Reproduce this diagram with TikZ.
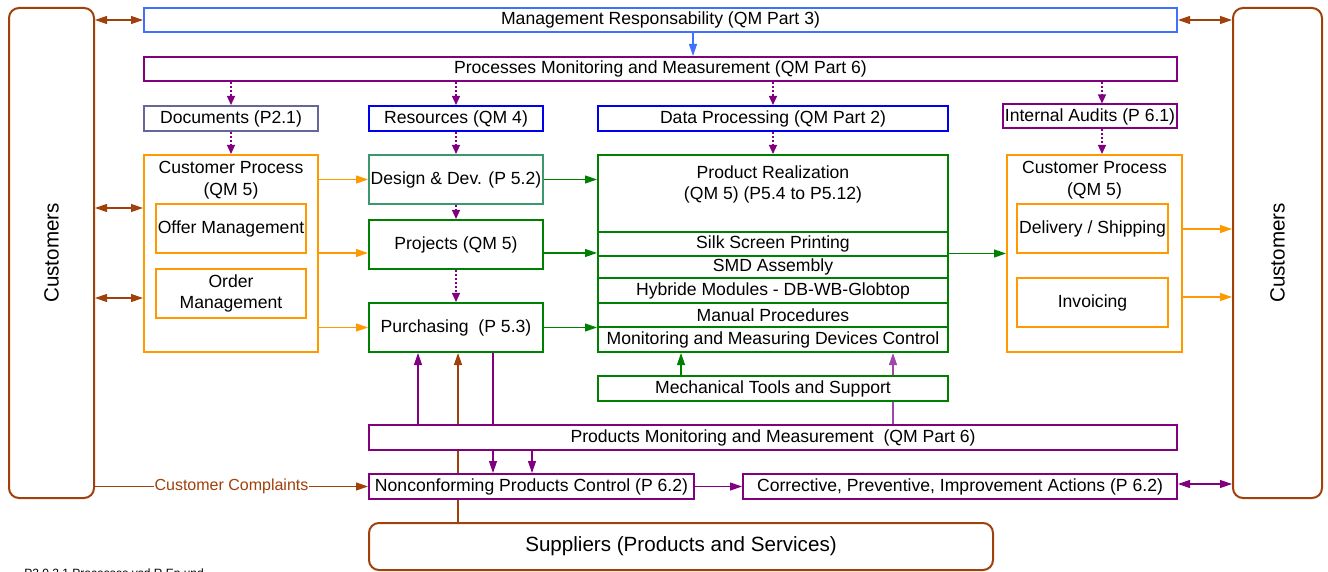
\documentclass[tikz,border=0pt]{standalone}
\usepackage{fontspec}
\setmainfont{Liberation Sans}
\usetikzlibrary{arrows.meta,positioning,backgrounds}
\definecolor{brn}{RGB}{160,64,10}
\definecolor{mrblue}{RGB}{64,112,255}
\definecolor{blu}{RGB}{0,0,240}
\definecolor{purp}{RGB}{128,0,128}
\definecolor{lpurp}{RGB}{160,70,170}
\definecolor{orng}{RGB}{255,153,0}
\definecolor{grn}{RGB}{0,128,0}
\definecolor{teal}{RGB}{60,150,110}
\definecolor{slate}{RGB}{102,102,153}
\tikzstyle{every node}+=[inner sep=0.5pt,font=\fontsize{8.8}{10.8}\selectfont]
\tikzstyle{box}=[draw,fill=white,line width=1pt,minimum height=12.5pt]
\tikzstyle{cust}=[draw=brn,fill=white,line width=1pt,rounded corners=5pt,font=\fontsize{10.3}{12}\selectfont]
\tikzstyle{link}=[line width=0.6pt,-{Triangle[length=6pt,width=4pt]}]
\tikzstyle{both}=[line width=0.6pt,{Triangle[length=6pt,width=4pt]}-{Triangle[length=6pt,width=4pt]}]
\tikzstyle{dots}=[purp,line width=0.6pt,dash pattern=on 1pt off 1pt,-{Triangle[length=4.5pt,width=4pt]}]
\begin{document}
\begin{tikzpicture}[x=0.5pt,y=-0.5pt]
\useasboundingbox (0,0) rectangle (1328,572);

\node[cust,minimum width=42.5pt,minimum height=245pt] (custL) at (51.5,253) {\rotatebox{90}{Customers}};
\node[cust,minimum width=44.5pt,minimum height=245pt] (custR) at (1277.5,253) {\rotatebox{90}{Customers}};

\node[box,draw=mrblue,minimum width=516.5pt,minimum height=12pt] (mr) at (660.5,20) {Management Responsability (QM Part 3)};
\node[box,draw=purp,minimum width=516.5pt,minimum height=12pt] (pmm) at (660.5,69) {Processes Monitoring and Measurement (QM Part 6)};

\node[box,draw=slate,minimum width=87pt] (docs) at (231,118.5) {Documents (P2.1)};
\node[box,draw=blu,minimum width=87pt] (res) at (456,118.5) {Resources (QM 4)};
\node[box,draw=blu,minimum width=175pt] (data) at (773,118.5) {Data Processing (QM Part 2)};
\node[box,draw=purp,minimum width=87pt,minimum height=12pt] (audit) at (1090,116.5) {Internal Audits (P 6.1)};

\node[box,draw=orng,minimum width=87pt,minimum height=98.5pt,
  label={[align=center,anchor=north,yshift=-3pt]north:Customer Process\\(QM 5)}] (cpL) at (231,253.5) {};
\node[box,draw=orng,minimum width=75pt,minimum height=24.5pt] (offer) at (231,228.5) {Offer Management};
\node[box,draw=orng,minimum width=75pt,minimum height=24.5pt,align=center] (order) at (231,293.5) {Order\\Management};

\node[box,draw=teal,minimum width=87pt,minimum height=24.5pt] (design) at (456,179.5) {Design \& Dev. (P 5.2)};
\node[box,draw=grn,minimum width=87pt,minimum height=24.5pt] (proj) at (456,244.5) {Projects (QM 5)};
\node[box,draw=grn,minimum width=87pt,minimum height=24.5pt] (purch) at (456,327.5) {Purchasing~ (P 5.3)};

\node[box,draw=grn,minimum width=175pt,minimum height=98.5pt,
  label={[align=center,anchor=north,yshift=-5pt]north:Product Realization\\(QM 5) (P5.4 to P5.12)}] (pr) at (773,253.5) {};
\node[box,draw=grn,minimum width=175pt,minimum height=12pt] (silk) at (773,244) {Silk Screen Printing};
\node[box,draw=grn,minimum width=175pt,minimum height=11pt] (smd) at (773,267) {SMD Assembly};
\node[box,draw=grn,minimum width=175pt,minimum height=12.5pt] (hyb) at (773,290.5) {Hybride Modules - DB-WB-Globtop};
\node[box,draw=grn,minimum width=175pt,minimum height=12pt] (man) at (773,315) {Manual Procedures};
\node[box,draw=grn,minimum width=175pt,minimum height=12.5pt] (mon) at (773,339.5) {Monitoring and Measuring Devices Control};
\node[box,draw=grn,minimum width=175pt] (mech) at (773,388.5) {Mechanical Tools and Support};

\node[box,draw=orng,minimum width=87.5pt,minimum height=98.5pt,
  label={[align=center,anchor=north,yshift=-3pt]north:Customer Process\\(QM 5)}] (cpR) at (1094.5,253.5) {};
\node[box,draw=orng,minimum width=75.5pt,minimum height=24.5pt] (deliv) at (1092.5,228.5) {Delivery / Shipping};
\node[box,draw=orng,minimum width=75.5pt,minimum height=24.5pt] (inv) at (1092.5,302.5) {Invoicing};

\node[box,draw=purp,minimum width=404pt] (pmm2) at (773,437.5) {Products Monitoring and Measurement~ (QM Part 6)};
\node[box,draw=purp,minimum width=162.5pt] (ncp) at (531.5,486.5) {Nonconforming Products Control (P 6.2)};
\node[box,draw=purp,minimum width=217pt] (cpi) at (960,486.5) {Corrective, Preventive, Improvement Actions (P 6.2)};
\node[cust,minimum width=312pt,minimum height=23.5pt] (sup) at (681,546.5) {Suppliers (Products and Services)};

\node[anchor=base west,font=\fontsize{6}{7}\selectfont] (ref) at (23,577) {P2.0.2.1 Processes.vsd R.Ep und};

\begin{scope}[on background layer]
\draw[both,brn] (custL.east |- mr.west) -- (mr.west);
\draw[both,brn] (mr.east) -- (custR.west |- mr.east);
\draw[link,mrblue] (mr.south -| 693,0) -- (pmm.north -| 693,0);
\draw[dots] (pmm.south -| docs.north) -- (docs.north);
\draw[dots] (pmm.south -| res.north) -- (res.north);
\draw[dots] (pmm.south -| data.north) -- (data.north);
\draw[dots] (pmm.south -| 1102,0) -- (audit.north -| 1102,0);
\draw[dots] (docs.south) -- (cpL.north);
\draw[dots] (res.south) -- (design.north);
\draw[dots] (data.south) -- (pr.north);
\draw[dots] (audit.south -| 1102,0) -- (cpR.north -| 1102,0);
\draw[dots] (design.south) -- (proj.north);
\draw[dots] (proj.south) -- (purch.north);
\draw[both,brn] (custL.east |- 0,208) -- (cpL.west |- 0,208);
\draw[both,brn] (custL.east |- 0,298) -- (cpL.west |- 0,298);
\draw[link,orng] (cpL.east |- design.west) -- (design.west);
\draw[link,orng] (cpL.east |- 0,253) -- (proj.west |- 0,253);
\draw[link,orng] (cpL.east |- purch.west) -- (purch.west);
\draw[link,grn] (design.east) -- (pr.west |- design.east);
\draw[link,grn] (proj.east |- 0,253) -- (pr.west |- 0,253);
\draw[link,grn] (purch.east) -- (pr.west |- purch.east);
\draw[link,grn] (pr.east) -- (cpR.west);
\draw[link,orng] (cpR.east |- 0,229) -- (custR.west |- 0,229);
\draw[link,orng] (cpR.east |- 0,297) -- (custR.west |- 0,297);
\draw[link,grn] (mech.north -| 681,0) -- (pr.south -| 681,0);
\draw[link,lpurp] (pmm2.north -| 893,0) -- (pr.south -| 893,0);
\draw[link,purp] (pmm2.north -| 418,0) -- (purch.south -| 418,0);
\draw[link,brn] (sup.north -| 458,0) -- (purch.south -| 458,0);
\draw[link,purp] (purch.south -| 493,0) -- (ncp.north -| 493,0);
\draw[link,purp] (pmm2.south -| 532,0) -- (ncp.north -| 532,0);
\draw[link,brn] (custL.east |- ncp.west) -- node[fill=white,text=brn,font=\fontsize{8}{9}\selectfont] (cc) {Customer Complaints} (ncp.west);
\draw[link,purp] (ncp.east) -- (cpi.west);
\draw[both,purp] (cpi.east |- 0,484) -- (custR.west |- 0,484);
\end{scope}
\end{tikzpicture}
\end{document}
